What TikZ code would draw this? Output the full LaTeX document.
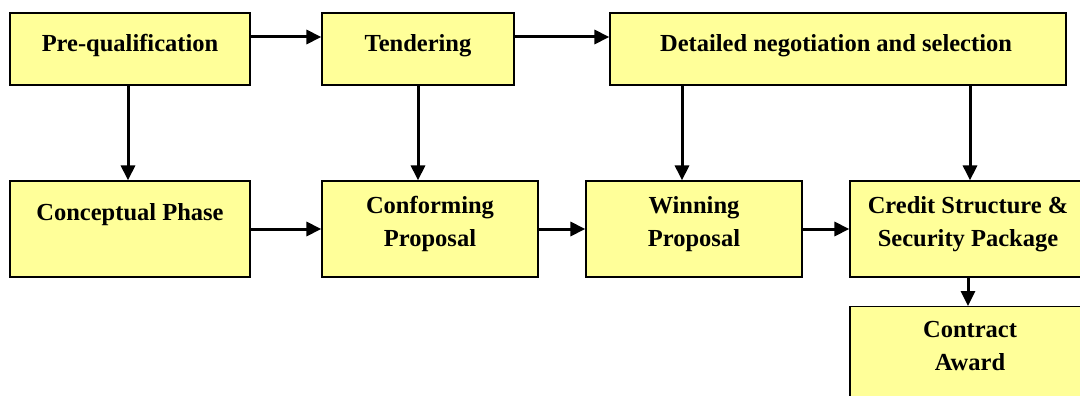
\documentclass[tikz,border=0pt]{standalone}
\usepackage{fontspec}
\setmainfont{Liberation Serif}
\usepackage{tikz}
\usetikzlibrary{arrows.meta}
\definecolor{boxfill}{HTML}{FFFF99}
\tikzset{
  stage/.style={draw=black, fill=boxfill, line width=1.2pt, inner sep=0pt},
  caption/.style={font=\fontsize{24.5}{32.5}\selectfont\bfseries, align=center, anchor=base, inner sep=0pt},
  flow/.style={draw=black, line width=3pt,
    -{Triangle[length=15pt,width=14pt]}},
}

\begin{document}
\begin{tikzpicture}[x=1pt,y=-1pt]
  \clip (0,0) rectangle (1080,396);
  \useasboundingbox (0,0) rectangle (1080,396);

  % top row
  \node[stage,minimum width=240pt,minimum height=72pt] (preq) at (130,49) {};
  \node[stage,minimum width=192pt,minimum height=72pt] (tend) at (418,49) {};
  \node[stage,minimum width=456pt,minimum height=72pt] (nego) at (838,49) {};
  \node[caption] (preqtxt) at (130,52) {Pre-qualification};
  \node[caption] (tendtxt) at (418,52) {Tendering};
  \node[caption] (negotxt) at (836,52) {Detailed negotiation and selection};

  % bottom row
  \node[stage,minimum width=240pt,minimum height=96pt] (conc) at (130,229) {};
  \node[stage,minimum width=216pt,minimum height=96pt] (conf) at (430,229) {};
  \node[stage,minimum width=216pt,minimum height=96pt] (winp) at (694,229) {};
  \node[stage,minimum width=236pt,minimum height=96pt] (cred) at (968,229) {};
  \node[stage,minimum width=236pt,minimum height=114pt,anchor=north] (award) at (968,306) {};
  \node[caption] (conctxt) at (130,220) {Conceptual Phase};
  \node[caption] (conftxt) at (430,246) {Conforming\\Proposal};
  \node[caption] (winptxt) at (694,246) {Winning\\Proposal};
  \node[caption] (credtxt) at (968,246) {Credit Structure \&\\Security Package};
  \node[caption] (awardtxt) at (970,370) {Contract\\Award};

  % connectors
  \draw[flow] ([yshift=12pt]preq.east) -- ([yshift=12pt]tend.west);
  \draw[flow] ([yshift=12pt]tend.east) -- ([yshift=12pt]nego.west);
  \draw[flow] ([xshift=-2pt]preq.south) -- ([xshift=-2pt]conc.north);
  \draw[flow] (tend.south) -- (tend.south |- conf.north);
  \draw[flow] (nego.south -| winp.center) ++(-12,0) coordinate (nw) -- (nw |- winp.north);
  \draw[flow] (nego.south -| cred.center) ++(2,0) coordinate (ne) -- (ne |- cred.north);
  \draw[flow] (conc) -- (conf);
  \draw[flow] (conf) -- (winp);
  \draw[flow] (winp) -- (cred);
  \draw[flow] (cred) -- (award);
\end{tikzpicture}
\end{document}
